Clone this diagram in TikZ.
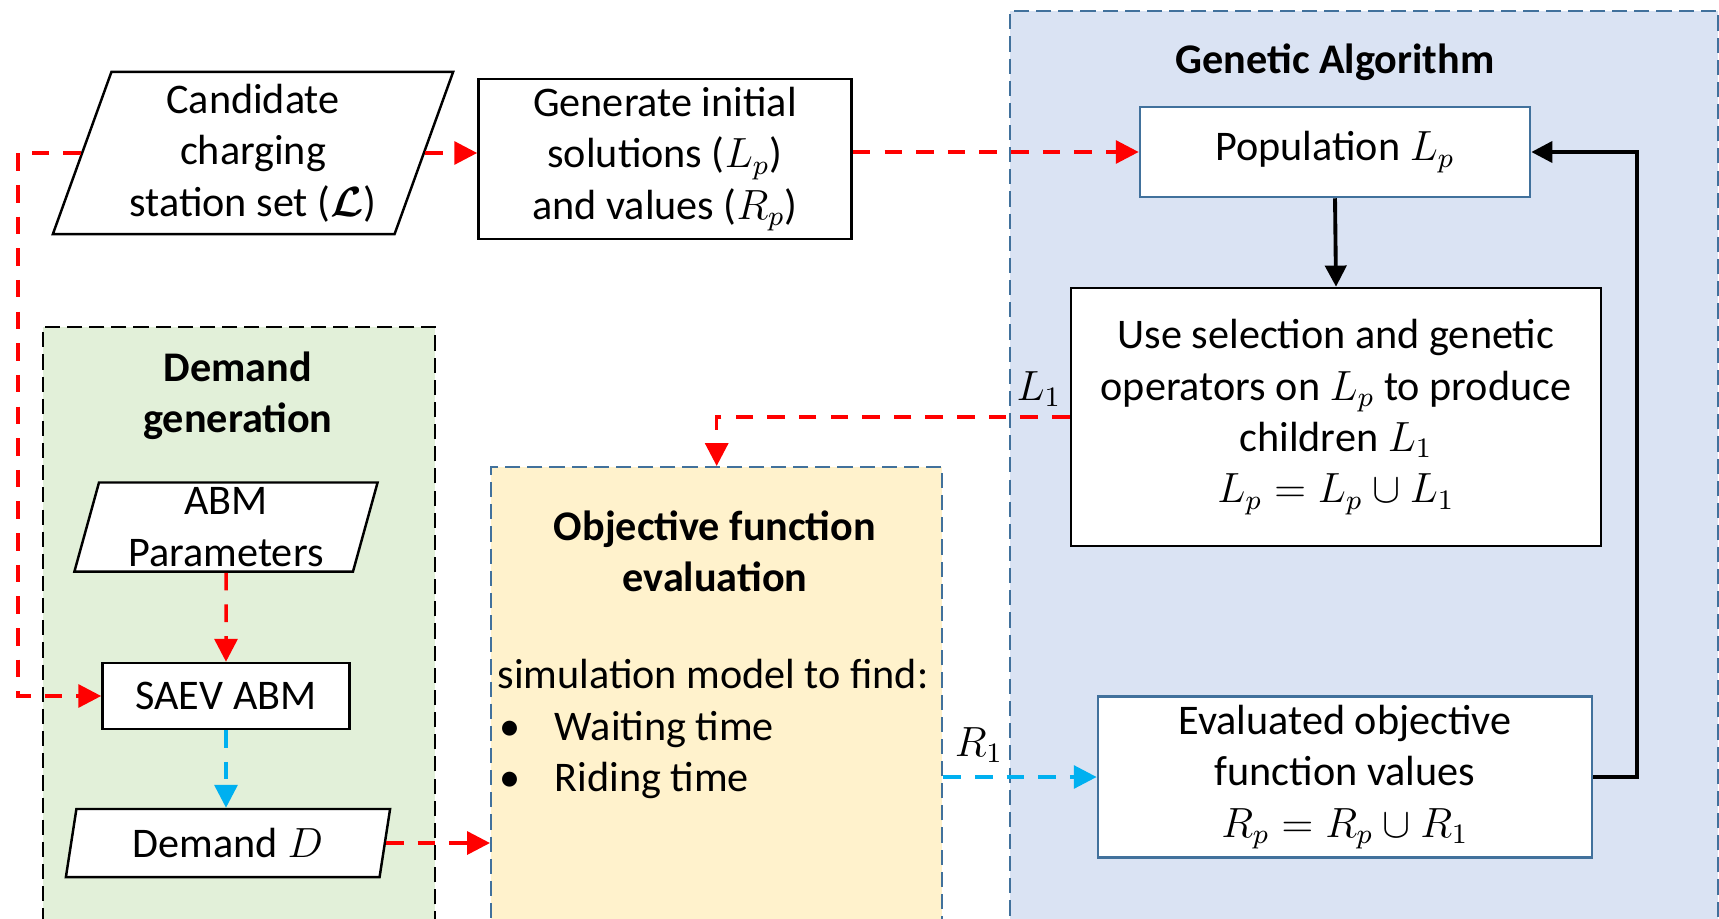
\documentclass[tikz,border=0pt]{standalone}
\usepackage{amssymb, amsmath}
\usepackage{fontspec}
\setmainfont{Carlito}
\usepackage{tikz}
\usetikzlibrary{arrows.meta,shapes.geometric}
\definecolor{gablue}{RGB}{218,227,243}
\definecolor{objyellow}{RGB}{255,242,204}
\definecolor{dggreen}{RGB}{226,240,217}
\definecolor{frameblue}{RGB}{65,113,156}
\definecolor{arrred}{RGB}{255,0,0}
\definecolor{arrblue}{RGB}{0,176,240}
\tikzset{
  box/.style={draw, fill=white, line width=0.7pt, align=center, inner sep=1pt},
  bluebox/.style={box, draw=frameblue},
  iobox/.style={box, trapezium, trapezium left angle=74, trapezium right angle=106, trapezium stretches body},
  group/.style={dash pattern=on 4.3pt off 2pt, line width=0.6pt, anchor=north west},
  title/.style={font=\fontsize{12}{14.6}\selectfont\bfseries, align=center},
  redarr/.style={draw=arrred, line width=1pt, dash pattern=on 5pt off 4pt, -{Triangle[length=6.5pt,width=6.5pt]}},
  bluearr/.style={redarr, draw=arrblue},
  blackarr/.style={line width=1.1pt, -{Triangle[length=6pt,width=6pt]}},
}

\begin{document}
\begin{tikzpicture}[x=0.01cm, y=-0.01cm, font=\fontsize{12}{14.6}\selectfont]
        \useasboundingbox (0,0) rectangle (1719,918);
        \node [group, fill=dggreen, draw=black, minimum width=3.92cm, minimum height=6.5cm] (dg) at (42,326) {};
        \node [group, fill=objyellow, draw=frameblue, minimum width=4.51cm, minimum height=5cm] (obj) at (490,466) {};
        \node [group, fill=gablue, draw=frameblue, minimum width=7.08cm, minimum height=9.5cm] (ga) at (1009,10) {};
        \node [title] (dgtitle) at (238,396) {Demand\\generation};
        \node [title] (objtitle) at (715,551) {Objective function\\evaluation};
        \node [title] (gatitle) at (1335,62) {Genetic Algorithm};
        \node [align=left, anchor=west, inner sep=0pt] (objlist) at (497,729) {simulation model to find:\\
          \makebox[0.57cm][l]{\hspace{0.02cm}\textbullet}Waiting time\\
          \makebox[0.57cm][l]{\hspace{0.02cm}\textbullet}Riding time};
        \node [iobox, trapezium left angle=68, trapezium right angle=112, minimum width=4cm, minimum height=1.62cm] (cand) at (253,153) {Candidate\\charging\\station set ($\boldsymbol{\mathcal{L}}$)};
        \node [box, minimum width=3.73cm, minimum height=1.6cm] (gen) at (665,159) {Generate initial\\solutions ($L_p$)\\and values ($R_p$)};
        \node [bluebox, minimum width=3.9cm, minimum height=0.9cm] (pop) at (1335,152) {Population $L_p$};
        \node [box, minimum width=5.3cm, minimum height=2.58cm] (sel) at (1336,417) {Use selection and genetic\\operators on $L_p$ to produce\\children $L_1$\\$L_p=L_p\cup L_1$};
        \node [bluebox, minimum width=4.94cm, minimum height=1.61cm] (eval) at (1345,777) {Evaluated objective\\function values\\$R_p=R_p\cup R_1$};
        \node [iobox, minimum width=3.03cm, minimum height=0.89cm] (abm) at (226,527) {ABM\\Parameters};
        \node [box, minimum width=2.47cm, minimum height=0.66cm] (saev) at (226,696) {SAEV ABM};
        \node [iobox, minimum width=3.24cm, minimum height=0.68cm] (dem) at (228,843) {Demand $D$};
        \node [] (l1) at (1039,389) {$L_1$};
        \node [] (r1) at (979,745) {$R_1$};
        \draw [redarr] (cand.east)--(cand.east -| gen.west);
        \draw [redarr] (gen.east |- pop.west)--(pop.west);
        \draw [redarr] (cand.west)--++(-63,0) |- (saev.west);
        \draw [redarr] (abm.south)--(saev.north);
        \draw [bluearr] (saev.south)--(saev.south |- dem.north);
        \draw [redarr] (dem.east)--(dem.east -| obj.west);
        \draw [redarr] (sel.west) -| (obj.north);
        \draw [bluearr] (obj.east |- eval.west)--(eval.west);
        \draw [blackarr] (pop.south)--(sel.north);
        \draw [blackarr] (eval.east)--++(44,0) |- (pop.east);
      \end{tikzpicture}
\end{document}
